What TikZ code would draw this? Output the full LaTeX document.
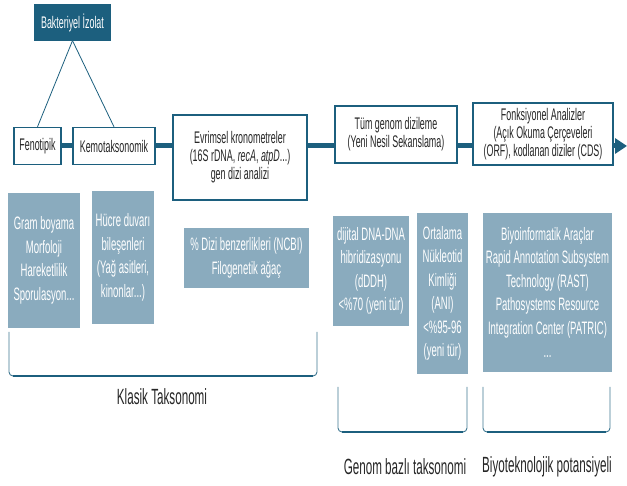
\documentclass[tikz,border=0pt]{standalone}
\usepackage{fontspec}
\setmainfont[FakeStretch=0.53]{Liberation Sans}
\usetikzlibrary{arrows.meta}
\definecolor{dteal}{HTML}{1C5F7E}
\definecolor{lteal}{HTML}{8AABBE}
\definecolor{txt}{HTML}{262626}
\begin{document}
\begin{tikzpicture}[x=1pt,y=-1pt,
  sz/.style 2 args={minimum width=#1pt, minimum height=#2pt},
  wbox/.style={draw=dteal, line width=1.3pt, fill=white, text=txt, align=center, inner sep=0pt, font=\fontsize{16.8}{18}\selectfont},
  topbox/.style={wbox, fill=dteal, text=white},
  lbox/.style={fill=lteal, text=white, align=center, inner sep=0pt, font=\fontsize{18}{23.5}\selectfont},
  toplink/.style={draw=dteal, line width=0.8pt},
  mainline/.style={draw=dteal, line width=5pt},
  brk/.style={draw=dteal!85, line width=0.9pt, rounded corners=4pt},
  brkbottom/.style={draw=dteal, line width=1.8pt},
  lbl/.style={text=txt, font=\fontsize{22}{25}\selectfont, inner sep=0pt}
]
\useasboundingbox (0,0) rectangle (627,486);

% top
\node[topbox, sz={75}{35}] (iso) at (72.5,22.5) {Bakteriyel İzolat};

% row of white boxes
\node[wbox, sz={47}{37}] (fen) at (37.5,146) {Fenotipik};
\node[wbox, sz={82}{37}] (kemo) at (114,146) {Kemotaksonomik};
\node[wbox, sz={134}{85}] (evr) at (240,157.5) {Evrimsel kronometreler\\(16S rDNA, \textit{recA}, \textit{atpD}...)\\gen dizi analizi};
\node[wbox, sz={122}{57}] (tum) at (396,134.5) {Tüm genom dizileme\\(Yeni Nesil Sekanslama)};
\node[wbox, sz={140}{62}] (fonk) at (543,134) {Fonksiyonel Analizler\\(Açık Okuma Çerçeveleri\\(ORF), kodlanan diziler (CDS)};

% links from top
\draw[toplink] (iso.south) -- (fen.north);
\draw[toplink] (iso.south) -- (kemo.north);

% main axis
\coordinate (axis) at (0,146);
\coordinate (tip) at (627,146);
\draw[mainline] (fen.east |- axis) -- (kemo.west |- axis);
\draw[mainline] (kemo.east |- axis) -- (evr.west |- axis);
\draw[mainline] (evr.east |- axis) -- (tum.west |- axis);
\draw[mainline] (tum.east |- axis) -- (fonk.west |- axis);
\draw[mainline, -{Triangle[length=12pt,width=15pt]}] (fonk.east |- axis) -- (tip);

% light boxes
\node[lbox, sz={72}{135}] (gram) at (44,260.5) {Gram boyama\\Morfoloji\\Hareketlilik\\Sporulasyon...};
\node[lbox, sz={62}{133}] (hucre) at (123,257.5) {Hücre duvarı\\bileşenleri\\(Yağ asitleri,\\kinonlar...)};
\node[lbox, sz={125}{60}] (dizi) at (246.5,258) {\% Dizi benzerlikleri (NCBI)\\Filogenetik ağaç};
\node[lbox, sz={76}{110}] (ddh) at (371,271) {dijital DNA-DNA\\hibridizasyonu\\(dDDH)\\<\%70 (yeni tür)};
\node[lbox, sz={51}{161}] (ani) at (442.5,293.5) {Ortalama\\Nükleotid\\Kimliği\\(ANI)\\<\%95-96\\(yeni tür)};
\node[lbox, sz={129}{159}] (biyo) at (547.5,292.5) {Biyoinformatik Araçlar\\Rapid Annotation Subsystem\\Technology (RAST)\\Pathosystems Resource\\Integration Center (PATRIC)\\...};

% brackets
\draw[brk] (9,332) -- (9,376) -- (317,376) -- (317,332);
\draw[brkbottom] (13,376) -- (313,376);
\draw[brk] (338,387) -- (338,432) -- (467,432) -- (467,387);
\draw[brkbottom] (342,432) -- (463,432);
\draw[brk] (483,387) -- (483,432) -- (610,432) -- (610,387);
\draw[brkbottom] (487,432) -- (606,432);

% labels
\node[lbl] (klasik) at (162,397) {Klasik Taksonomi};
\node[lbl] (genom) at (405,467) {Genom bazlı taksonomi};
\node[lbl] (biyot) at (547,467) {Biyoteknolojik potansiyeli};
\end{tikzpicture}
\end{document}
